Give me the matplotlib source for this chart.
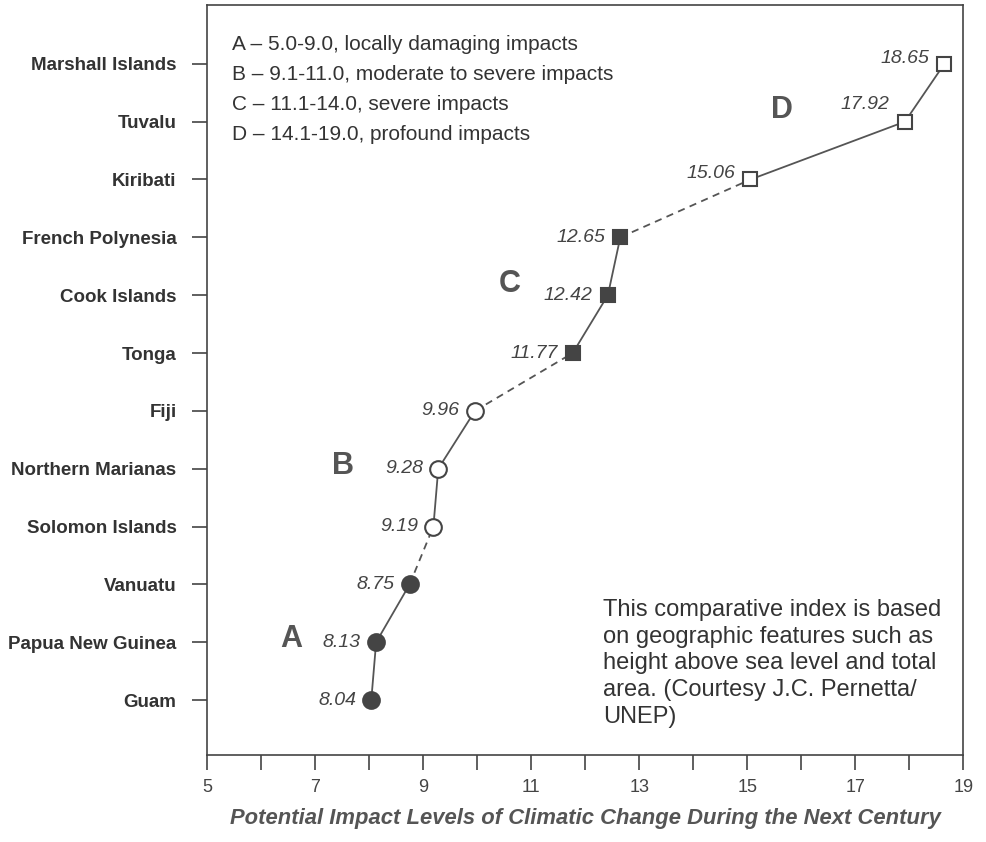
import matplotlib.pyplot as plt

countries = ["Guam", "Papua New Guinea", "Vanuatu", "Solomon Islands",
             "Northern Marianas", "Fiji", "Tonga", "Cook Islands",
             "French Polynesia", "Kiribati", "Tuvalu", "Marshall Islands"]
values = [8.04, 8.13, 8.75, 9.19, 9.28, 9.96, 11.77, 12.42, 12.65, 15.06, 17.92, 18.65]
groups = ["A", "A", "A", "B", "B", "B", "C", "C", "C", "D", "D", "D"]
value_labels = ["8.04", "8.13", "8.75", "9.19", "9.28", "9.96", "11.77", "12.42",
                "12.65", "15.06", "17.92", "18.65"]

legend_lines = ["A \u2013 5.0-9.0, locally damaging impacts",
                "B \u2013 9.1-11.0, moderate to severe impacts",
                "C \u2013 11.1-14.0, severe impacts",
                "D \u2013 14.1-19.0, profound impacts"]
note = ("This comparative index is based\non geographic features such as\n"
        "height above sea level and total\narea. (Courtesy J.C. Pernetta/\nUNEP)")
xlabel = "Potential Impact Levels of Climatic Change During the Next Century"

# marker style per group
styles = {"A": dict(marker="o", ms=12, mfc="#444444"),
          "B": dict(marker="o", ms=12, mfc="white"),
          "C": dict(marker="s", ms=10, mfc="#444444"),
          "D": dict(marker="s", ms=10, mfc="white")}
letter_pos = {"A": (6.55, 1.05), "B": (7.52, 4.05), "C": (10.6, 7.2), "D": (15.65, 10.2)}

plt.rcParams['font.family'] = ['Liberation Sans', 'DejaVu Sans']

fig = plt.figure(figsize=(9.86, 8.42), dpi=100)
ax = fig.add_axes([0.210, 0.1033, 0.767, 0.891])

ypos = list(range(len(countries)))
line_c = "#555555"
for i in range(len(values) - 1):
    ls = "-" if groups[i] == groups[i + 1] else (0, (4, 3))
    ax.plot(values[i:i + 2], ypos[i:i + 2], color=line_c, lw=1.3, ls=ls, zorder=1)

for i, v in enumerate(values):
    st = styles[groups[i]]
    ax.plot(v, ypos[i], ls="none", marker=st["marker"], ms=st["ms"],
            mfc=st["mfc"], mec="#444444", mew=1.5, zorder=3)
    dy = 0
    if groups[i] == "D":
        dy = 4
    if value_labels[i] == "17.92":
        dy = 12
    ax.annotate(value_labels[i], (v, ypos[i]), xytext=(-11, dy), textcoords="offset points",
                ha="right", va="center", fontsize=14, style="italic", color="#444444")

for g, (lx, ly) in letter_pos.items():
    ax.text(lx, ly, g, fontsize=22, fontweight="bold", color="#555555",
            ha="center", va="center", family=['Liberation Sans Narrow', 'Liberation Sans'])

for k, line in enumerate(legend_lines):
    ax.text(0.033, 0.947 - k * 0.040, line, transform=ax.transAxes, fontsize=15,
            color="#333333", ha="left", va="center")

ax.text(0.524, 0.208, note, transform=ax.transAxes, fontsize=17, color="#333333",
        ha="left", va="top", linespacing=1.28)

ax.set_xlim(5, 19)
ax.set_ylim(-0.95, 12.02)
ax.set_xticks(range(5, 20, 2))
ax.set_xticks(range(6, 19, 2), minor=True)
ax.set_yticks(ypos)
ax.set_yticklabels(countries, fontsize=13.5, fontweight="bold", color="#333333")
ax.tick_params(axis="x", which="both", direction="out", length=11, width=1.2,
               color="#444444", labelsize=13, labelcolor="#444444", pad=6)
ax.tick_params(axis="y", direction="out", length=11, width=1.2, color="#444444", pad=11)
for s in ax.spines.values():
    s.set_color("#444444")
    s.set_linewidth(1.2)

ax.set_xlabel(xlabel, fontsize=15.8, fontweight="bold", style="italic", color="#555555",
              labelpad=9)

fig.savefig("out.png", dpi=100)
